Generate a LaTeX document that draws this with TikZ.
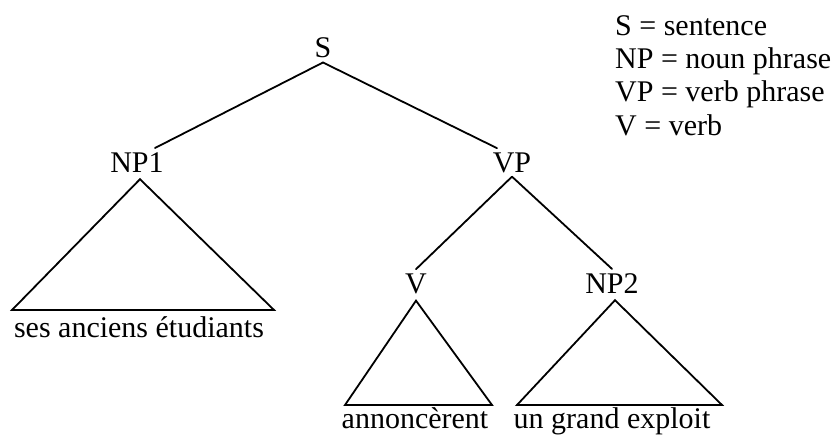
\documentclass[tikz,border=0pt]{standalone}
\usepackage{fontspec}
\setmainfont{Liberation Serif}
\begin{document}
\begin{tikzpicture}[x=1pt,y=-1pt,
  lbl/.style={font=\fontsize{30}{34}\selectfont, inner sep=4pt, anchor=base},
  legend/.style={font=\fontsize{30}{34}\selectfont, inner sep=0pt, anchor=base west},
  branch/.style={line width=1.8pt, line cap=round},
  tri/.style={line width=1.8pt, line join=miter}]
\useasboundingbox (0,0) rectangle (840,436);
% tree labels
\node[lbl] (S) at (323,58) {S};
\node[lbl] (NP1) at (137,172) {NP1};
\node[lbl] (VP) at (512,172) {VP};
\node[lbl] (V) at (416,293) {V};
\node[lbl] (NP2) at (612,293) {NP2};
% words
\node[lbl] (w1) at (139,337) {ses anciens étudiants};
\node[lbl] (w2) at (415,428) {annoncèrent};
\node[lbl] (w3) at (612,428) {un grand exploit};
% triangle bases
\coordinate (b1l) at (12,310);
\coordinate (b1r) at (274,310);
\coordinate (b2l) at (345,405);
\coordinate (b2r) at (492,405);
\coordinate (b3l) at (517,405);
\coordinate (b3r) at (722,405);
% branches
\draw[branch] (S.south) -- ([xshift=18pt]NP1.north);
\draw[branch] (S.south) -- ([xshift=-15pt]VP.north);
\draw[branch] (VP.south) -- (V.north);
\draw[branch] (VP.south) -- (NP2.north);
% triangles
\draw[tri] ([xshift=3pt,yshift=-3pt]NP1.south) -- (b1r) -- (b1l) -- cycle;
\draw[tri] ([yshift=-3pt]V.south) -- (b2r) -- (b2l) -- cycle;
\draw[tri] ([xshift=3pt,yshift=-3pt]NP2.south) -- (b3r) -- (b3l) -- cycle;
% legend
\node[legend] (L1) at (615,36) {S = sentence};
\node[legend] (L2) at (615,68) {NP = noun phrase};
\node[legend] (L3) at (615,101) {VP = verb phrase};
\node[legend] (L4) at (615,135) {V = verb};
\end{tikzpicture}
\end{document}
